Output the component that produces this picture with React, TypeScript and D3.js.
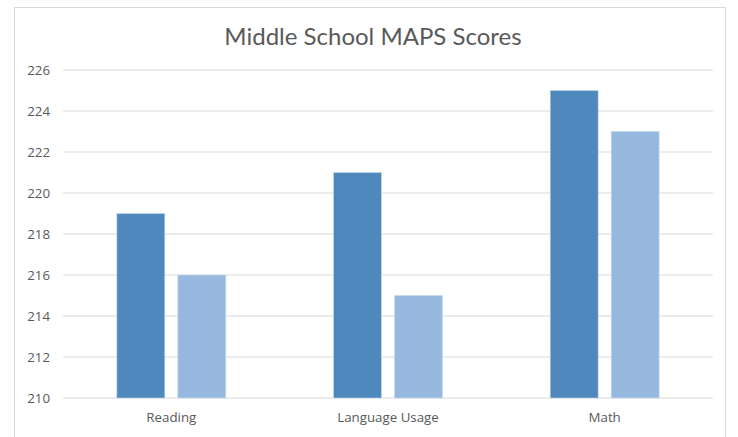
import React from "react";
import * as d3 from "d3";

const width = 738;
const height = 437;
const margin = { top: 70, right: 25, bottom: 39, left: 63 };

const categories = ["Reading", "Language Usage", "Math"];
const seriesA = [219, 221, 225];
const seriesB = [216, 215, 223];
const yTicks = [210, 212, 214, 216, 218, 220, 222, 224, 226];
const colors = ["#4f88bd", "#97b9e0"];

const App = () => {
  const x = d3
    .scaleBand()
    .domain(categories)
    .range([margin.left, width - margin.right])
    .paddingInner(0)
    .paddingOuter(0);
  // two bars per category, close together in the middle of the band
  const inner = d3
    .scaleBand()
    .domain(["a", "b"])
    .range([0, x.bandwidth()])
    .paddingInner(0.213)
    .paddingOuter(0.883);
  const y = d3
    .scaleLinear()
    .domain([210, 226])
    .range([height - margin.bottom, margin.top]);

  const series = [seriesA, seriesB];

  return (
    <svg
      width={width}
      height={height}
      style={{ position: "absolute", left: 0, top: 0, background: "#fff" }}
    >
      <rect
        x={14.5}
        y={7.5}
        width={711}
        height={440}
        fill="#fff"
        stroke="#d9d9d9"
      />
      <text
        x={373}
        y={45}
        textAnchor="middle"
        fontFamily="Lato, 'Open Sans', sans-serif"
        fontSize={24}
        fill="#595959"
      >
        Middle School MAPS Scores
      </text>
      {yTicks.map((t) => (
        <g key={t}>
          <line
            x1={margin.left}
            x2={width - margin.right}
            y1={y(t)}
            y2={y(t)}
            stroke="#d9d9d9"
            strokeWidth={1}
          />
          <text
            x={50}
            y={y(t)}
            dy="0.35em"
            textAnchor="end"
            fontFamily="'Open Sans', sans-serif"
            fontSize={13.3}
            fill="#595959"
          >
            {t}
          </text>
        </g>
      ))}
      {categories.map((c, i) => (
        <g key={c} transform={`translate(${x(c)},0)`}>
          {series.map((s, j) => (
            <rect
              key={j}
              x={inner(j === 0 ? "a" : "b")}
              y={y(s[i])}
              width={inner.bandwidth()}
              height={y(210) - y(s[i])}
              fill={colors[j]}
              stroke="#c9dbef"
              strokeWidth={0.6}
            />
          ))}
          <text
            x={x.bandwidth() / 2}
            y={height - margin.bottom + 24}
            textAnchor="middle"
            fontFamily="'Open Sans', sans-serif"
            fontSize={13.3}
            fill="#595959"
          >
            {c}
          </text>
        </g>
      ))}
    </svg>
  );
};

export default App;
